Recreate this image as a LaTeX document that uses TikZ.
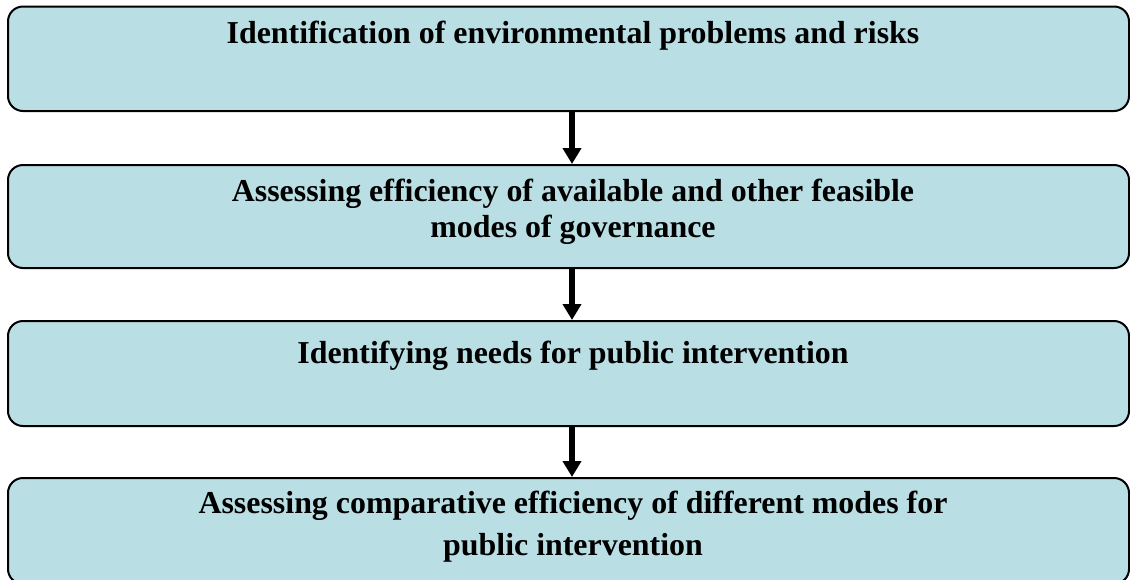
\documentclass[tikz,border=0pt]{standalone}
\usepackage{fontspec}
\setmainfont{Liberation Serif}
\usetikzlibrary{arrows.meta}
\definecolor{boxblue}{RGB}{185,223,228}
\begin{document}
\begin{tikzpicture}[x=1pt,y=-1pt,
    stagebox/.style={draw=black, line width=2pt, fill=boxblue, rounded corners=15pt,
      minimum width=1121pt, inner sep=0pt},
    stagetext/.style={align=center, anchor=base, font=\bfseries\fontsize{31.9}{36.7}\selectfont, inner sep=0pt},
    flowarr/.style={line width=5.5pt, -{Triangle[width=18pt,length=16pt]}}]
      \useasboundingbox (0,0) rectangle (1130,579);
      \clip (0,0) rectangle (1130,579);
      %
      \node[stagebox, minimum height=104.5pt] (ident) at (568.5,58.75) {};
      \node[stagebox, minimum height=103pt] (assess) at (568.5,216.5) {};
      \node[stagebox, minimum height=105pt] (needs) at (568.5,373.5) {};
      \node[stagebox, minimum height=106pt] (compare) at (568.5,531) {};
      %
      \node[stagetext] (identtxt) at (573,43.3) {Identification of environmental problems and risks};
      \node[stagetext] (assesstxt) at (573,237.7) {Assessing efficiency of available and other feasible\\ modes of governance};
      \node[stagetext] (needstxt) at (573,363) {Identifying needs for public intervention};
      \node[stagetext, font=\bfseries\fontsize{31.9}{42}\selectfont] (comparetxt) at (573,555) {Assessing comparative efficiency of different modes for\\ public intervention};
      %
      \draw[flowarr] (ident.south -| 572,0) -- (assess.north -| 572,0);
      \draw[flowarr] (assess.south -| 572,0) -- (needs.north -| 572,0);
      \draw[flowarr] (needs.south -| 572,0) -- (compare.north -| 572,0);
\end{tikzpicture}
\end{document}
